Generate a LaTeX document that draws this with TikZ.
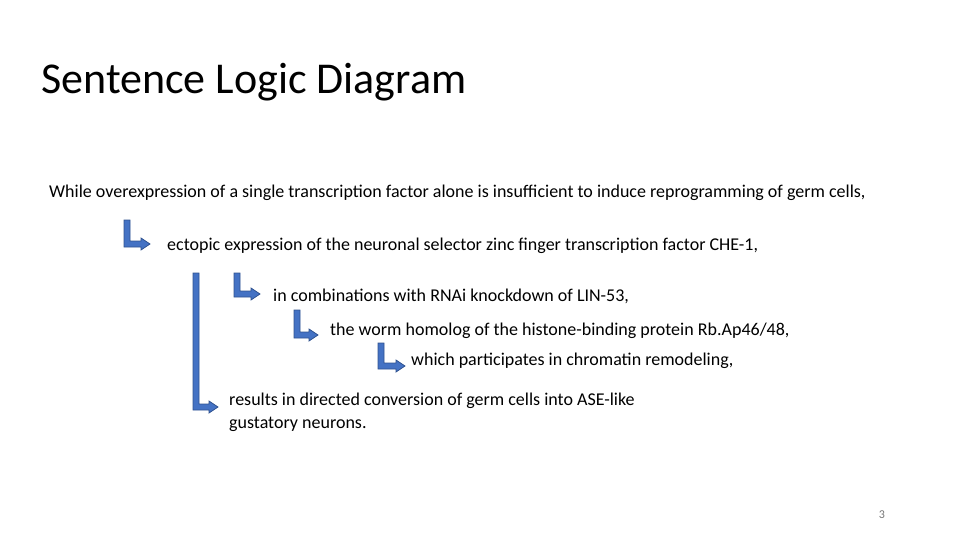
\documentclass[tikz,border=0pt]{standalone}
\usepackage{fontspec}
\setmainfont{Carlito}
\usepackage{xcolor}
\definecolor{arrowblue}{RGB}{68, 114, 196}
\definecolor{arrowedge}{RGB}{47, 82, 143}
\definecolor{pagegray}{RGB}{118, 118, 118}
\usepackage{tikz}
\tikzstyle{clause} = [anchor=west, inner sep=0pt, font=\fontsize{18}{23}\selectfont, align=left]
\tikzstyle{bent} = [fill=arrowblue, draw=arrowedge, line width=0.8pt, line join=miter]
% L-shaped arrow: left edge, top, bottom, tip
\newcommand{\bentarrow}[4]{
  \draw[bent] (#1,#2) -- (#1+6,#2) -- (#1+6,#3-6) -- (#4-9,#3-6) -- (#4-9,#3-9)
    -- (#4,#3-3) -- (#4-9,#3+3) -- (#4-9,#3) -- (#1,#3) -- cycle;
}

\begin{document}
\begin{tikzpicture}[x=1pt, y=-1pt]
  \useasboundingbox (0,0) rectangle (960,540);
  \node[anchor=west, inner sep=0pt, font=\fontsize{44}{52}\selectfont] (title) at (41,82) {Sentence Logic Diagram};

  \node[clause] (clause1) at (49,193) {While overexpression of a single transcription factor alone is insufficient to induce reprogramming of germ cells,};
  \node[clause] (clause2) at (167,246) {ectopic expression of the neuronal selector zinc finger transcription factor CHE-1,};
  \node[clause] (clause3) at (273,296) {in combinations with RNAi knockdown of LIN-53,};
  \node[clause] (clause4) at (330,331) {the worm homolog of the histone-binding protein Rb.Ap46/48,};
  \node[clause] (clause5) at (411,361) {which participates in chromatin remodeling,};
  \node[clause] (clause6) at (229,412) {results in directed conversion of germ cells into ASE-like\\gustatory neurons.};

  \bentarrow{124}{220}{247}{150}
  \bentarrow{193}{273}{410}{218}
  \bentarrow{234}{273}{297}{260}
  \bentarrow{294}{310}{338}{318}
  \bentarrow{378}{343}{369}{405}

  \node[anchor=center, inner sep=0pt, text=pagegray, font=\fontsize{12}{14}\selectfont] (pagenum) at (882,515) {3};
\end{tikzpicture}
\end{document}
